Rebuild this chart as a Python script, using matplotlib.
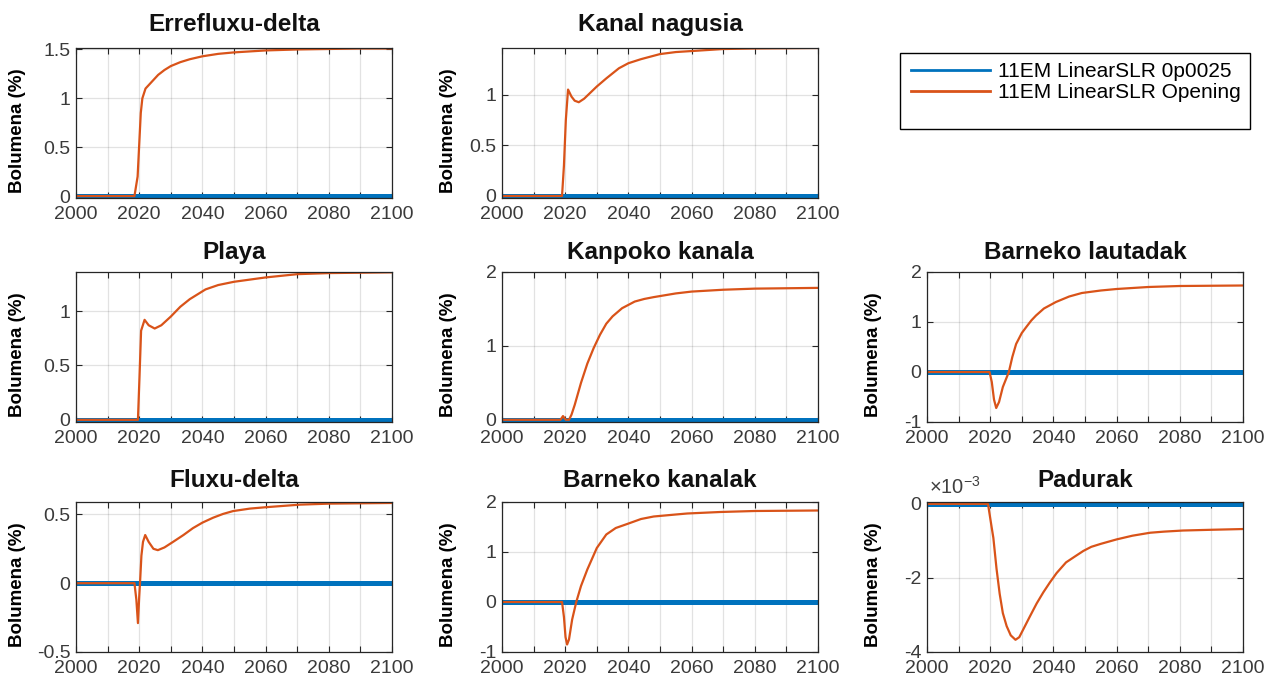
import matplotlib
matplotlib.use('Agg')
import matplotlib.pyplot as plt
from matplotlib.ticker import MultipleLocator, FuncFormatter
from matplotlib.patches import Rectangle

# scenario colours (matlab defaults)
BLUE = '#0072BD'
ORANGE = '#D95319'

ref_years = [2000, 2100]
ref_vals = [0, 0]

erreflux_years = [2000, 2018.5, 2019.5, 2020.5, 2021, 2022, 2024, 2026, 2028, 2030, 2033, 2036,
                  2040, 2045, 2050, 2060, 2070, 2080, 2090, 2100]
erreflux_vals = [0, 0, 0.2, 0.85, 1.0, 1.1, 1.17, 1.24, 1.29, 1.33, 1.37, 1.4,
                 1.43, 1.455, 1.47, 1.49, 1.5, 1.505, 1.51, 1.51]

nagusia_years = [2000, 2019, 2019.6, 2020.2, 2020.9, 2022, 2023, 2024.3, 2026, 2028, 2030, 2033,
                 2037, 2040, 2044, 2050, 2055, 2060, 2070, 2080, 2100]
nagusia_vals = [0, 0, 0.3, 0.75, 1.05, 0.98, 0.94, 0.925, 0.96, 1.02, 1.08, 1.16,
                1.26, 1.31, 1.35, 1.40, 1.42, 1.43, 1.45, 1.455, 1.46]

playa_years = [2000, 2019.6, 2020.1, 2020.6, 2021.7, 2023, 2024.9, 2027, 2030, 2033, 2036,
               2041, 2045, 2050, 2060, 2070, 2080, 2100]
playa_vals = [0, 0, 0.4, 0.82, 0.92, 0.87, 0.84, 0.87, 0.95, 1.04, 1.11,
              1.2, 1.24, 1.27, 1.31, 1.34, 1.35, 1.357]

kanpoko_years = [2000, 2018.5, 2019.3, 2020.2, 2021.2, 2022, 2023, 2025, 2027, 2029, 2031, 2033,
                 2035, 2038, 2042, 2045, 2048, 2055, 2060, 2070, 2080, 2100]
kanpoko_vals = [0, 0, 0.05, 0.0, 0.0, 0.07, 0.2, 0.5, 0.76, 0.97, 1.15, 1.3,
                1.4, 1.51, 1.6, 1.635, 1.66, 1.71, 1.735, 1.76, 1.775, 1.785]

lautadak_years = [2000, 2019.8, 2020.5, 2021.2, 2021.9, 2022.8, 2024, 2025.9, 2027, 2028.2, 2030,
                  2031.3, 2033, 2034.5, 2037, 2040.8, 2045, 2049, 2055, 2060, 2070, 2080, 2100]
lautadak_vals = [0, 0, -0.2, -0.55, -0.72, -0.6, -0.3, 0.0, 0.3, 0.56, 0.78,
                 0.89, 1.03, 1.13, 1.27, 1.4, 1.51, 1.58, 1.63, 1.66, 1.70, 1.72, 1.73]

fluxu_years = [2000, 2018.5, 2019.1, 2019.6, 2020.0, 2020.3, 2020.7, 2021.2, 2021.9, 2023, 2024.5,
               2025.9, 2028, 2030.7, 2034, 2037, 2040, 2043.4, 2046.5, 2049.7, 2055, 2060, 2071,
               2080, 2100]
fluxu_vals = [0, 0, -0.12, -0.29, -0.1, 0.02, 0.2, 0.3, 0.35, 0.3, 0.25,
              0.24, 0.26, 0.3, 0.35, 0.4, 0.44, 0.476, 0.503, 0.524, 0.542, 0.552, 0.571,
              0.578, 0.583]

kanalak_years = [2000, 2019, 2019.6, 2020.1, 2020.6, 2021.2, 2022.2, 2023.5, 2025, 2027, 2030,
                 2033, 2036, 2039.6, 2044, 2048, 2055, 2058.6, 2069, 2080, 2100]
kanalak_vals = [0, 0, -0.3, -0.7, -0.85, -0.75, -0.35, 0.0, 0.32, 0.65, 1.08,
                1.35, 1.48, 1.56, 1.66, 1.71, 1.75, 1.77, 1.8, 1.82, 1.83]

# padurak values are in units of 1e-3 %
padurak_years = [2000, 2019.3, 2020.4, 2021, 2022, 2023, 2024, 2025.2, 2026.5, 2028, 2029.2,
                 2030.4, 2032.5, 2034.7, 2036.8, 2038.9, 2041, 2044, 2047, 2049.5, 2052, 2055,
                 2060, 2065, 2070.6, 2075, 2081, 2090, 2100]
padurak_vals = [0, 0, -0.6, -0.92, -1.75, -2.43, -2.95, -3.3, -3.55, -3.67, -3.6,
                -3.4, -3.05, -2.69, -2.39, -2.12, -1.87, -1.58, -1.41, -1.27, -1.16, -1.08,
                -0.96, -0.86, -0.78, -0.75, -0.72, -0.7, -0.68]

plt.rcParams['font.family'] = ['Liberation Sans', 'DejaVu Sans']
plt.rcParams['axes.unicode_minus'] = False
plt.rcParams['mathtext.fontset'] = 'custom'
plt.rcParams['mathtext.rm'] = 'Liberation Sans'

fig = plt.figure(figsize=(12.79, 6.84), dpi=100)

W, H = 1279.0, 684.0
col_left = [76, 502, 927]
row_top = [48, 272, 502]
ax_w, ax_h = 316, 150
label_x = [-0.158, -0.143, -0.142]
title_pad = [12, 9.5, 11]

panels = [
    # row, col, title, years, vals, ylim, yticks, scale
    (0, 0, 'Errefluxu-delta', erreflux_years, erreflux_vals, (-0.02, 1.515), [0, 0.5, 1, 1.5], 1),
    (0, 1, 'Kanal nagusia', nagusia_years, nagusia_vals, (-0.02, 1.46), [0, 0.5, 1], 1),
    (1, 0, 'Playa', playa_years, playa_vals, (-0.02, 1.36), [0, 0.5, 1], 1),
    (1, 1, 'Kanpoko kanala', kanpoko_years, kanpoko_vals, (-0.03, 2), [0, 1, 2], 1),
    (1, 2, 'Barneko lautadak', lautadak_years, lautadak_vals, (-1, 2), [-1, 0, 1, 2], 1),
    (2, 0, 'Fluxu-delta', fluxu_years, fluxu_vals, (-0.5, 0.59), [-0.5, 0, 0.5], 1),
    (2, 1, 'Barneko kanalak', kanalak_years, kanalak_vals, (-1, 2), [-1, 0, 1, 2], 1),
    (2, 2, 'Padurak', padurak_years, padurak_vals, (-4e-3, 0.05e-3), [-4e-3, -2e-3, 0], 1e-3),
]

lines = []
for row, col, title, yrs, vals, ylim, yticks, scale in panels:
    left = col_left[col] / W
    bottom = 1 - (row_top[row] + ax_h) / H
    ax = fig.add_axes([left, bottom, ax_w / W, ax_h / H])
    l1, = ax.plot(ref_years, [v * scale for v in ref_vals], color=BLUE, lw=3.6,
                  label='11EM LinearSLR 0p0025')
    l2, = ax.plot(yrs, [v * scale for v in vals], color=ORANGE, lw=1.6,
                  label='11EM LinearSLR Opening')
    lines = [l1, l2]
    ax.set_xlim(2000, 2100)
    ax.set_ylim(*ylim)
    ax.xaxis.set_major_locator(MultipleLocator(10))
    ax.xaxis.set_major_formatter(FuncFormatter(lambda v, p: '%d' % v if int(round(v)) % 20 == 0 else ''))
    ax.set_yticks(yticks)
    if scale != 1:
        ax.yaxis.set_major_formatter(FuncFormatter(lambda v, p: '%g' % round(v * 1e3, 6)))
        ax.text(0.005, 1.025, r'$\times$10$^{-3}$', transform=ax.transAxes, fontsize=14.5,
                color='#404040', ha='left', va='bottom')
    else:
        ax.yaxis.set_major_formatter(FuncFormatter(lambda v, p: '%g' % v))
    ax.grid(True, color='#262626', alpha=0.13, lw=0.9)
    ax.tick_params(direction='in', length=4, width=0.8, top=True, right=True,
                   labelsize=14, labelcolor='#3a3a3a', colors='#262626', pad=4)
    ax.tick_params(axis='x', pad=6)
    for s in ax.spines.values():
        s.set_color('#262626')
        s.set_linewidth(0.9)
    ax.set_title(title, fontsize=17.5, fontweight='bold', color='#111111', pad=title_pad[row])
    ax.set_ylabel('Bolumena (%)', fontsize=13.5, fontweight='bold', color='black')
    ax.yaxis.set_label_coords(label_x[col], 0.45)

# legend box, drawn by hand so the frame keeps its extra room at the bottom
box = Rectangle((900 / W, 1 - 129 / H), 350 / W, 76 / H, transform=fig.transFigure,
                facecolor='white', edgecolor='black', lw=1.0)
fig.patches.append(box)
leg = fig.legend(handles=lines, loc='upper left', bbox_to_anchor=(905 / W, 1 - 56 / H),
                 fontsize=15, frameon=False, handlelength=3.8, handletextpad=0.35,
                 labelspacing=0.1, borderpad=0.3, borderaxespad=0)
for h in leg.get_lines():
    h.set_linewidth(2.0)

fig.savefig('out.png', dpi=100)
